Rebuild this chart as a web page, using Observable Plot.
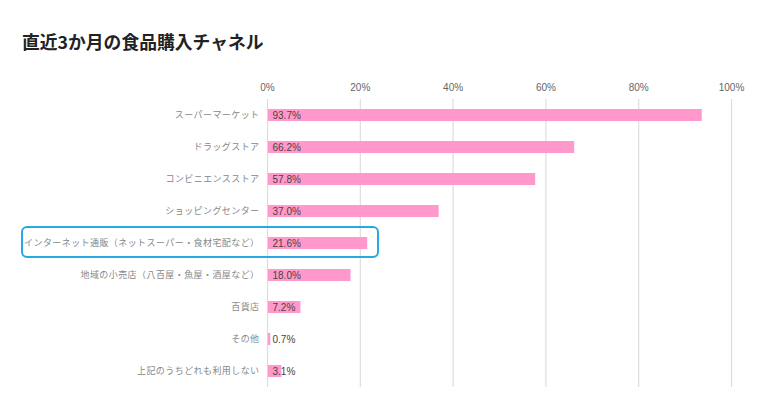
<!DOCTYPE html>
<html><head><meta charset="utf-8">
<script src="https://cdn.jsdelivr.net/npm/d3@7"></script>
<script src="https://cdn.jsdelivr.net/npm/@observablehq/plot@0.6"></script>
<style>
body{margin:0;background:#fff;font-family:"Liberation Sans","Noto Sans CJK JP",sans-serif;}
#wrap{position:relative;width:768px;height:405px;}
#title{height:72px;box-sizing:border-box;padding:31px 0 0 22px;font-size:17.8px;line-height:20px;font-weight:bold;color:#222;font-family:"Noto Sans CJK JP",sans-serif;}
#hl{position:absolute;left:21px;top:226px;width:354px;height:28px;border:2px solid #29a9e1;border-radius:6px;}
#chart g[aria-label="y-axis tick label"] text{letter-spacing:0.42px;}
</style></head>
<body><div id="wrap"><div id="title">直近3か月の食品購入チャネル</div><div id="chart"></div><div id="hl"></div></div>
<script>
const categories = ["スーパーマーケット","ドラッグストア","コンビニエンスストア","ショッピングセンター","インターネット通販（ネットスーパー・食材宅配など）","地域の小売店（八百屋・魚屋・酒屋など）","百貨店","その他","上記のうちどれも利用しない"];
const values = [93.7,66.2,57.8,37.0,21.6,18.0,7.2,0.7,3.1];
const tickValues = [0,20,40,60,80,100];
const data = categories.map((c,i)=>({cat:c,v:values[i]}));
const chart = Plot.plot({
  width:768, height:333,
  marginTop:27, marginBottom:18, marginLeft:267, marginRight:37,
  style:{fontFamily:'"Liberation Sans","Noto Sans CJK JP",sans-serif',background:"#fff"},
  x:{domain:[0,100], axis:null, label:null},
  y:{domain:categories, padding:0, axis:null, label:null},
  marks:[
    Plot.gridX(tickValues,{stroke:"#dddddd",strokeOpacity:1,strokeWidth:1.2}),
    Plot.axisX(tickValues,{anchor:"top",label:null,tickSize:0,tickPadding:9,fontSize:10,fill:"#666",tickFormat:d=>d+"%"}),
    Plot.axisY({anchor:"left",label:null,tickSize:0,tickPadding:8,fontSize:9,fill:"#888"}),
    Plot.barX(data,{x1:0.2,x2:"v",y:"cat",fill:"#ff99cc",insetTop:10,insetBottom:10}),
    Plot.text(data,{x:0,y:"cat",text:d=>d.v.toFixed(1)+"%",dx:5,textAnchor:"start",fill:"#444",fontSize:10})
  ]
});
document.getElementById("chart").appendChild(chart);
</script></body></html>
